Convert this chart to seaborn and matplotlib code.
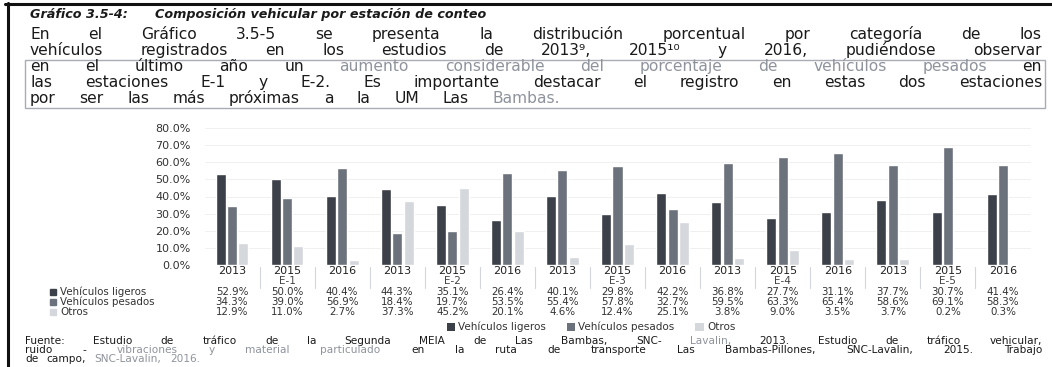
import numpy as np
import pandas as pd
import matplotlib
matplotlib.use("Agg")
import matplotlib.pyplot as plt
import seaborn as sns
from matplotlib.patches import Rectangle, Patch
from matplotlib.lines import Line2D
from matplotlib.transforms import blended_transform_factory

# ---------------- data ----------------
estaciones = ["E-1", "E-2", "E-3", "E-4", "E-5"]
anios = ["2013", "2015", "2016"]
series = ["Vehículos ligeros", "Vehículos pesados", "Otros"]

ligeros = [52.9, 50.0, 40.4, 44.3, 35.1, 26.4, 40.1, 29.8, 42.2, 36.8, 27.7, 31.1, 37.7, 30.7, 41.4]
pesados = [34.3, 39.0, 56.9, 18.4, 19.7, 53.5, 55.4, 57.8, 32.7, 59.5, 63.3, 65.4, 58.6, 69.1, 58.3]
otros = [12.9, 11.0, 2.7, 37.3, 45.2, 20.1, 4.6, 12.4, 25.1, 3.8, 9.0, 3.5, 3.7, 0.2, 0.3]

y_ticks = [0, 10, 20, 30, 40, 50, 60, 70, 80]

colores = ["#3c4149", "#6c727c", "#d4d7db"]
GRIS = "#8e939c"
TXT = "#1a1a1a"

grupos = [f"{e} {a}" for e in estaciones for a in anios]
df = pd.DataFrame({
    "grupo": grupos * 3,
    "serie": [s for s in series for _ in grupos],
    "valor": ligeros + pesados + otros,
})

# ---------------- figure ----------------
W, H = 1052, 367
sns.set_style("white")
plt.rcParams["font.family"] = ["DejaVu Sans"]
fig = plt.figure(figsize=(W / 100, H / 100), dpi=100)
fig.patch.set_facecolor("white")


def fx(px):
    return px / W


def fy(py):
    return 1 - py / H


def linea(segmentos, x0, x1, yb, size, weight="normal", style="normal"):
    """Draw a line of words placed one by one, justified between x0 and x1."""
    arts = []
    for texto, color in segmentos:
        for w in texto.split():
            arts.append(fig.text(0, fy(yb), w, fontsize=size, color=color,
                                 fontweight=weight, fontstyle=style,
                                 va="baseline", ha="left"))
    r = fig.canvas.get_renderer()
    anchos = [a.get_window_extent(r).width for a in arts]
    gap = (x1 - x0 - sum(anchos)) / max(len(arts) - 1, 1)
    x = x0
    for a, w in zip(arts, anchos):
        a.set_x(fx(x))
        x += w + gap


# page frame lines
fig.add_artist(Line2D([fx(5), fx(1052)], [fy(3.5), fy(3.5)], color="#111111", lw=2.2))
fig.add_artist(Line2D([fx(7.5), fx(7.5)], [fy(3), fy(367)], color="#111111", lw=2.2))

# caption
fig.text(fx(30), fy(18), "Gráfico 3.5-4:", fontsize=9.2, fontweight="bold",
         fontstyle="italic", color=TXT, va="baseline")
fig.text(fx(155), fy(18), "Composición vehicular por estación de conteo", fontsize=9.2,
         fontweight="bold", fontstyle="italic", color=TXT, va="baseline")

# paragraph
P = 11.2
linea([("En el Gráfico 3.5-5 se presenta la distribución porcentual por categoría de los", TXT)],
      30, 1042, 39, P)
linea([("vehículos registrados en los estudios de 2013⁹, 2015¹⁰ y 2016, pudiéndose observar", TXT)],
      30, 1042, 55, P)
linea([("en el último año un", TXT),
       ("aumento considerable del porcentaje de vehículos pesados", GRIS),
       ("en", TXT)], 30, 1042, 71, P)
linea([("las estaciones E-1 y E-2. Es importante destacar el registro en estas dos estaciones", TXT)],
      30, 1042, 87, P)
linea([("por ser las más próximas a la UM Las", TXT), ("Bambas.", GRIS)],
      30, 560, 103, P)

fig.add_artist(Rectangle((fx(25), fy(108)), fx(1020), (108 - 60) / H, fill=False,
                         edgecolor="#a9adb3", lw=1.0))

# ---------------- bar chart ----------------
ax = fig.add_axes([fx(204.5), fy(265), fx(826), (265 - 128) / H])
sns.barplot(data=df, x="grupo", y="valor", hue="serie", order=grupos, hue_order=series,
            palette=colores, width=0.62, gap=0.12, saturation=1, legend=False, ax=ax)
ax.set_xlim(-0.5, len(grupos) - 0.5)
ax.set_ylim(0, 80)
ax.set_yticks(y_ticks)
ax.set_yticklabels([f"{v:.1f}%" for v in y_ticks])
ax.set_xticks(range(len(grupos)))
ax.set_xticklabels([a for _ in estaciones for a in anios])
ax.tick_params(axis="y", length=0, pad=10, labelsize=8, labelcolor="#333333")
ax.tick_params(axis="x", length=0, pad=1, labelsize=8, labelcolor="#222222")
ax.set_xlabel("")
ax.set_ylabel("")
ax.yaxis.grid(True, color="#eeeeee", lw=0.6)
ax.set_axisbelow(True)
for s in ax.spines.values():
    s.set_visible(False)

bt = blended_transform_factory(ax.transData, fig.transFigure)

# category separators and station labels
for k in range(len(grupos) - 1):
    ax.add_line(Line2D([k + 0.5, k + 0.5], [fy(267), fy(288)], transform=bt,
                       color="#d3d6da", lw=0.8, clip_on=False))
for i, e in enumerate(estaciones):
    ax.text(3 * i + 1, fy(281), e, transform=bt, ha="center", va="center",
            fontsize=7.5, color="#444444")

# data table
filas_y = [292, 302, 312]
for serie, vals, col, yy in zip(series, [ligeros, pesados, otros], colores, filas_y):
    fig.add_artist(Line2D([fx(53)], [fy(yy)], marker="s", markersize=4.5, color=col, lw=0))
    fig.text(fx(60), fy(yy), serie, fontsize=7.4, color="#333333", va="center", ha="left")
    for i, v in enumerate(vals):
        ax.text(i, fy(yy), f"{v:.1f}%", transform=bt, ha="center", va="center",
                fontsize=7.4, color="#333333")

# legend
handles = [Patch(facecolor=c, edgecolor="none") for c in colores]
fig.legend(handles, series, loc="center", bbox_to_anchor=(fx(591), fy(327)), ncol=3,
           frameon=False, fontsize=7.5, handlelength=0.8, handleheight=0.8,
           handletextpad=0.3, columnspacing=2.0, labelcolor="#333333")

# source
S = 7.6
linea([("Fuente: Estudio de tráfico de la Segunda MEIA de Las Bambas, SNC-", TXT),
       ("Lavalin,", GRIS), ("2013. Estudio de tráfico vehicular,", TXT)],
      25, 1042, 344, S)
linea([("ruido -", TXT), ("vibraciones y material particulado", GRIS),
       ("en la ruta de transporte Las Bambas-Pillones, SNC-Lavalin, 2015. Trabajo", TXT)],
      25, 1042, 353, S)
linea([("de campo,", TXT), ("SNC-Lavalin, 2016.", GRIS)], 25, 200, 362, S)

fig.savefig("out.png", dpi=100, facecolor="white")
